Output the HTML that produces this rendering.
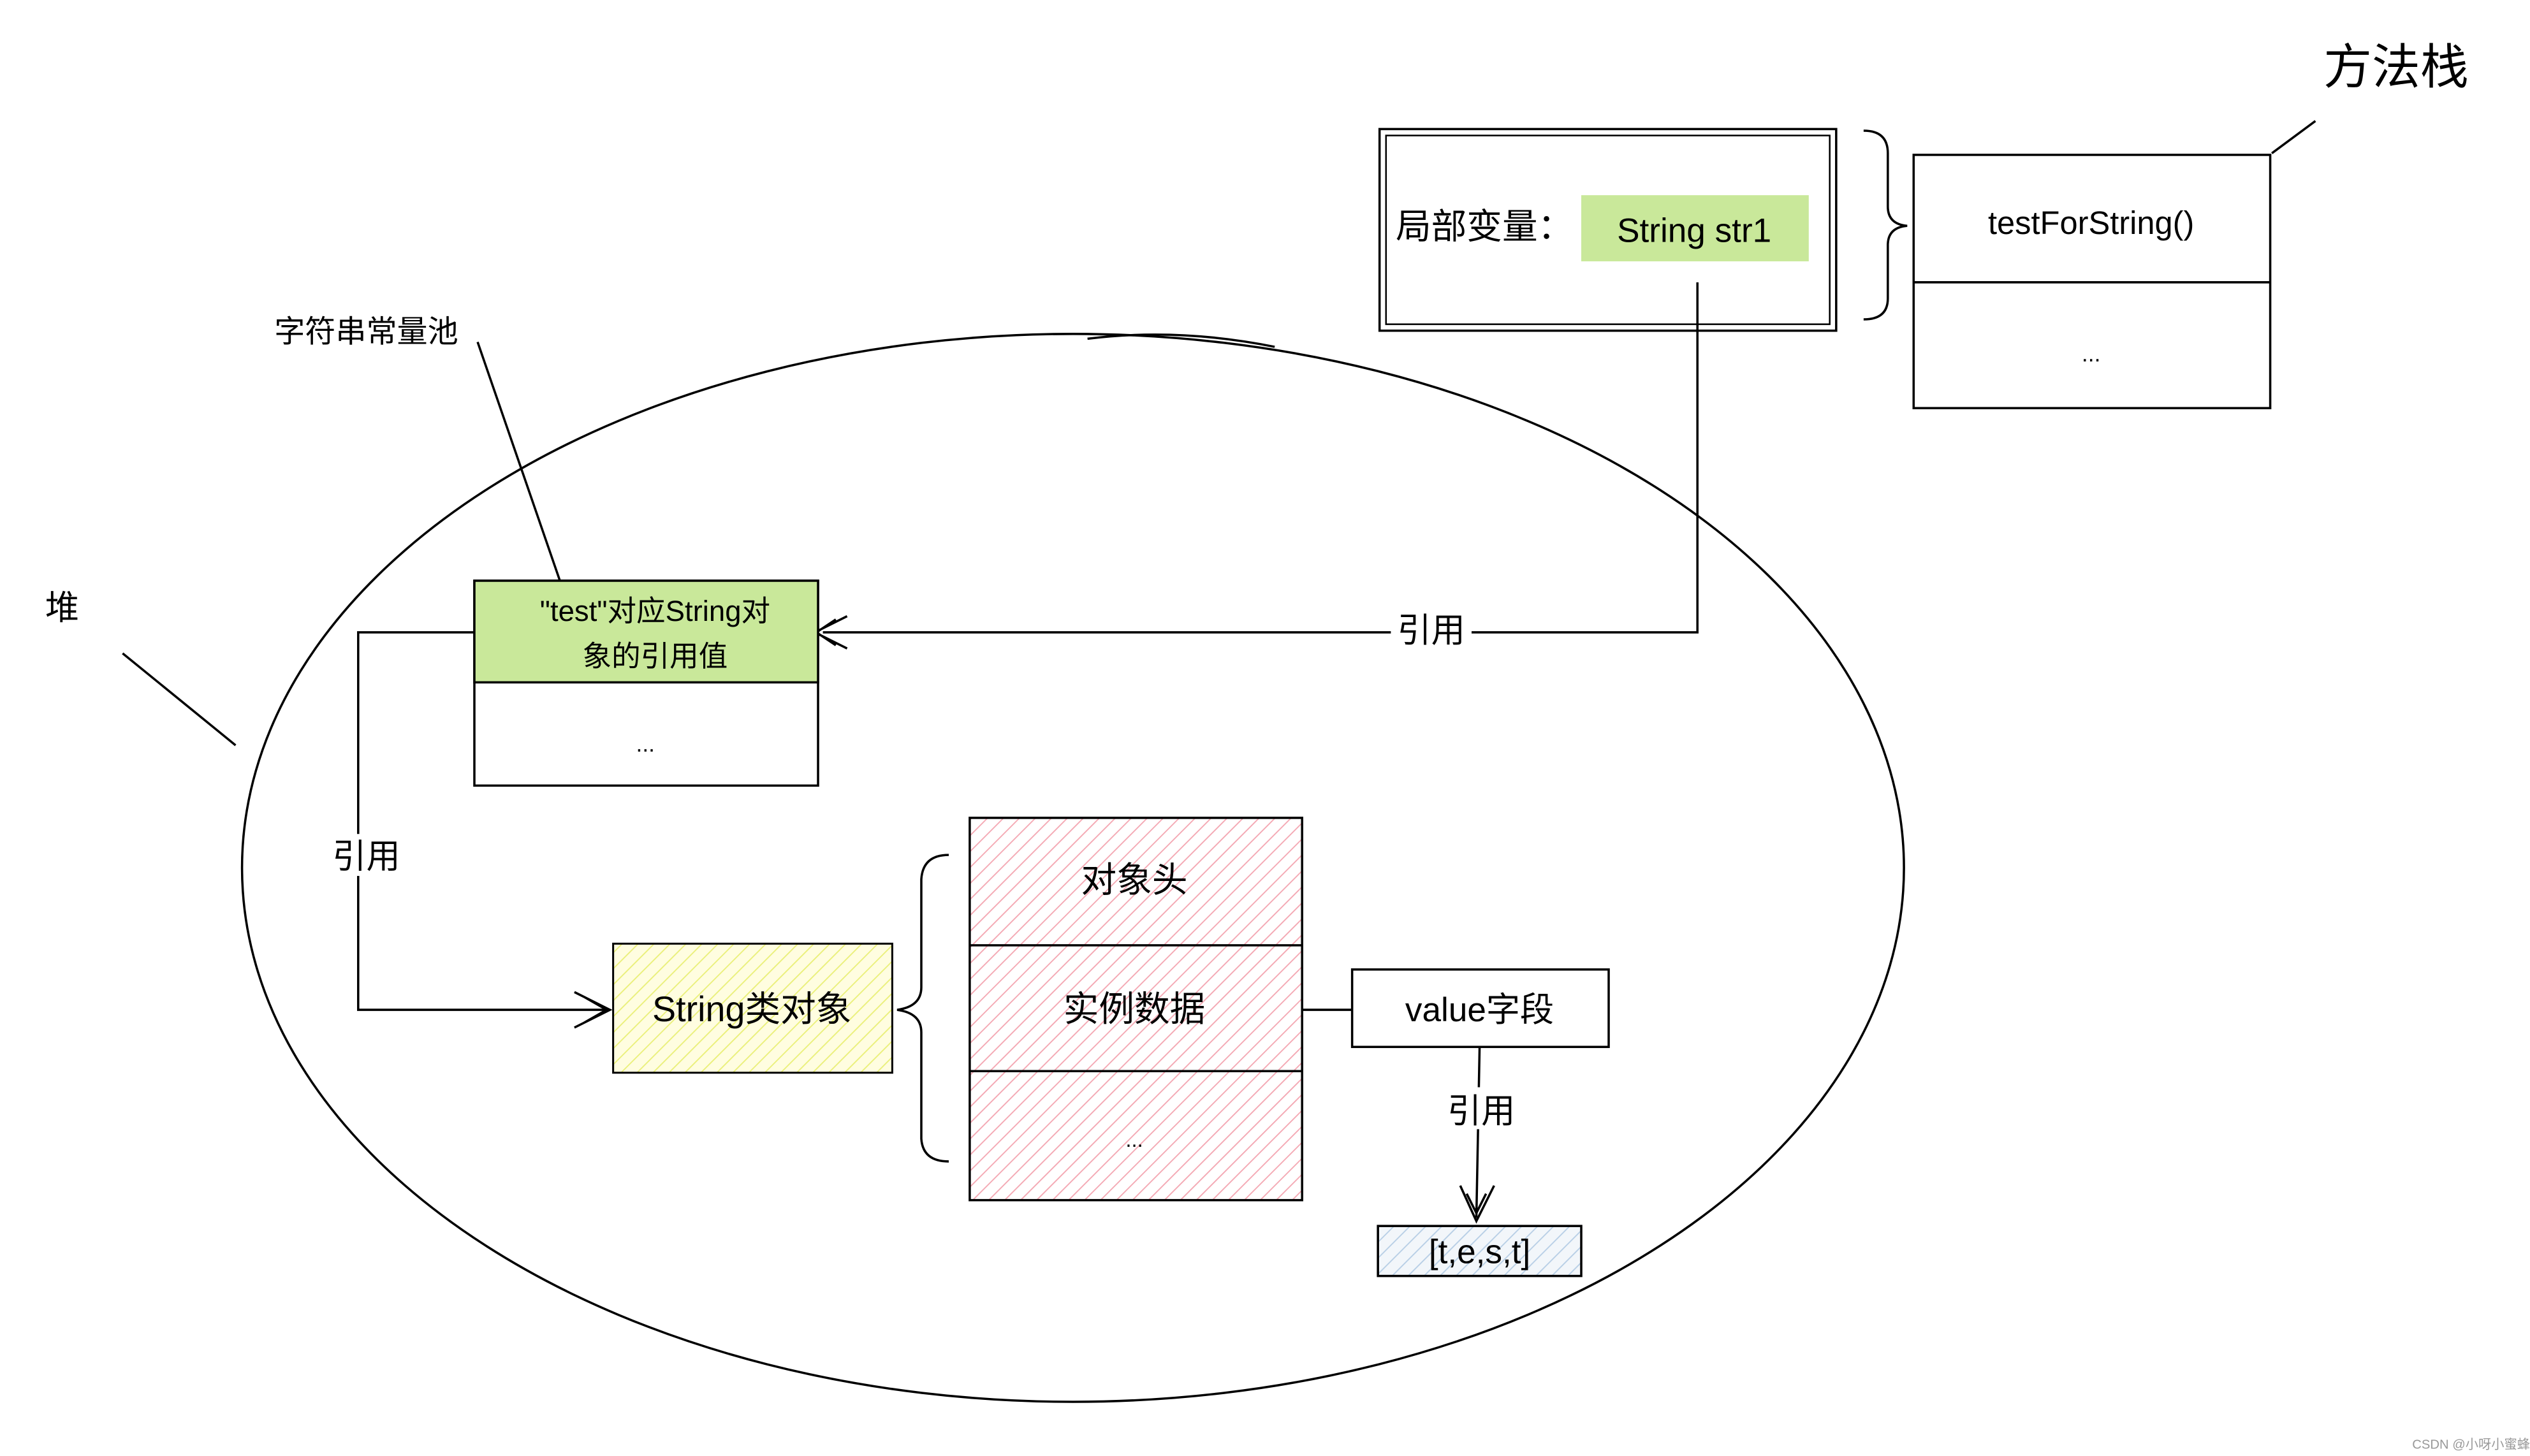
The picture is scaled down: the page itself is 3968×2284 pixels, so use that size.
<!DOCTYPE html>
<html><head><meta charset="utf-8">
<style>
html,body{margin:0;padding:0;background:#fff;}
svg{display:block;}
text{font-family:"Liberation Sans","Noto Sans CJK SC",sans-serif;fill:#000;}
</style></head>
<body>
<svg width="3968" height="2284" viewBox="0 0 1568 902.6" preserveAspectRatio="none" xmlns="http://www.w3.org/2000/svg">
<defs>
<pattern id="hp" width="7" height="7" patternUnits="userSpaceOnUse" patternTransform="rotate(45)">
<rect width="7" height="7" fill="#fff"/><line x1="0" y1="0" x2="0" y2="7" stroke="#f4a8b3" stroke-width="1.5"/></pattern>
<pattern id="hy" width="7" height="7" patternUnits="userSpaceOnUse" patternTransform="rotate(45)">
<rect width="7" height="7" fill="#fffde0"/><line x1="0" y1="0" x2="0" y2="7" stroke="#eaf07a" stroke-width="1.5"/></pattern>
<pattern id="hb" width="7" height="7" patternUnits="userSpaceOnUse" patternTransform="rotate(45)">
<rect width="7" height="7" fill="#f2f6fa"/><line x1="0" y1="0" x2="0" y2="7" stroke="#b8cfe6" stroke-width="1.5"/></pattern>
</defs>
<g fill="none" stroke="#000" stroke-width="1.4">
<ellipse cx="665" cy="538" rx="515" ry="331"/>
<path d="M674 210 Q730 203 790 215"/>
<line x1="1408" y1="95" x2="1435" y2="75"/>
<rect x="855" y="80" width="283" height="125"/>
<rect x="859" y="84" width="275" height="117" stroke-width="1"/>
<path d="M1155 81 Q1170 81 1170 95 L1170 128 Q1170 139 1182 140 Q1170 141 1170 152 L1170 185 Q1170 198 1155 198"/>
<rect x="1186" y="96" width="221" height="157"/>
<line x1="1186" y1="175" x2="1407" y2="175"/>
<line x1="296" y1="212" x2="347" y2="360"/>
<line x1="76" y1="405" x2="146" y2="462"/>
<rect x="294" y="360" width="213" height="127"/>
<path d="M1052 175 L1052 392 L912 392 M862 392 L510 392"/>
<path d="M525 382 L505 392 L525 402 M518 384 L506 392 L518 400"/>
<path d="M303 392 L222 392 L222 626 L376 626"/>
<path d="M356 615 L378 626 L356 637 M362 618 L376 626 L362 634"/>
<path d="M588 530 Q572 530 571 545 L571 612 Q571 624 556 626 Q571 628 571 640 L571 706 Q572 720 588 720"/>
<line x1="762" y1="626" x2="838" y2="626"/>
<rect x="838" y="601" width="159" height="48"/>
<path d="M917 649 L915 755"/>
<path d="M905 735 L915 757 L926 735 M909 740 L915 752 L921 740"/>
</g>
<rect x="980" y="121" width="141" height="41" fill="#c9e89a"/>
<rect x="294" y="360" width="213" height="63" fill="#c9e89a" stroke="#000" stroke-width="1.4"/>
<rect x="380" y="585" width="173" height="80" fill="url(#hy)" stroke="#000" stroke-width="1.2"/>
<rect x="601" y="507" width="206" height="237" fill="url(#hp)" stroke="#000" stroke-width="1.4"/>
<line x1="601" y1="586" x2="807" y2="586" stroke="#000" stroke-width="1.4"/>
<line x1="601" y1="664" x2="807" y2="664" stroke="#000" stroke-width="1.4"/>
<rect x="854" y="760" width="126" height="31" fill="url(#hb)" stroke="#000" stroke-width="1.4"/>
<text x="1440" y="52" font-size="30">方法栈</text>
<text x="865" y="148" font-size="22">局部变量：</text>
<text x="1050" y="150" font-size="21" text-anchor="middle">String str1</text>
<text x="1296" y="145" font-size="20" text-anchor="middle">testForString()</text>
<text x="1296" y="224" font-size="14" text-anchor="middle">...</text>
<text x="170" y="212" font-size="19">字符串常量池</text>
<text x="28" y="384" font-size="21">堆</text>
<text x="406" y="385" font-size="18" text-anchor="middle">"test"对应String对</text>
<text x="406" y="413" font-size="18" text-anchor="middle">象的引用值</text>
<text x="400" y="466" font-size="14" text-anchor="middle">...</text>
<rect x="864" y="378" width="48" height="24" fill="#fff"/>
<text x="887" y="398" font-size="21" text-anchor="middle">引用</text>
<rect x="202" y="517" width="46" height="26" fill="#fff"/>
<text x="227" y="538" font-size="21" text-anchor="middle">引用</text>
<text x="466" y="633" font-size="22" text-anchor="middle">String类对象</text>
<text x="703" y="553" font-size="22" text-anchor="middle">对象头</text>
<text x="703" y="633" font-size="22" text-anchor="middle">实例数据</text>
<text x="703" y="711" font-size="13" text-anchor="middle">...</text>
<text x="917" y="633" font-size="21" text-anchor="middle">value字段</text>
<rect x="894" y="674" width="48" height="26" fill="#fff"/>
<text x="918" y="696" font-size="21" text-anchor="middle">引用</text>
<text x="917" y="783" font-size="21" text-anchor="middle">[t,e,s,t]</text>
<text x="1495" y="898" font-size="8" style="fill:#999">CSDN @小呀小蜜蜂</text>
</svg>
</body></html>
